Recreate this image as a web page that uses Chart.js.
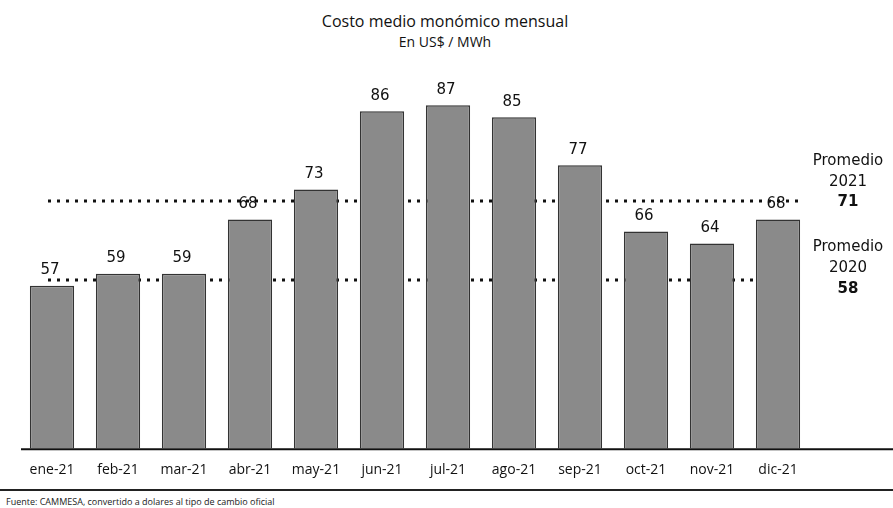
<!DOCTYPE html>
<html>
<head>
<meta charset="utf-8">
<script src="https://cdn.jsdelivr.net/npm/chart.js@4"></script>
<style>
  body { margin: 0; background: #fff; }
  #wrap { position: relative; width: 893px; height: 508px; overflow: hidden; }
  #titulo { position: absolute; top: 10px; left: 0; width: 890px; text-align: center; font-family: "Open Sans", sans-serif; font-size: 16px; color: #111; }
  #subtitulo { position: absolute; top: 32px; left: 0; width: 890px; text-align: center; font-family: "Open Sans", sans-serif; font-size: 14px; color: #111; }
  #linea { position: absolute; top: 489px; left: 0; width: 893px; height: 2px; background: #222; }
  #fuente { position: absolute; top: 495px; left: 6px; font-family: "Open Sans", sans-serif; font-size: 9px; color: #222; white-space: nowrap; }
</style>
</head>
<body>
<div id="wrap">
  <div id="titulo">Costo medio monómico mensual</div>
  <div id="subtitulo">En US$ / MWh</div>
  <canvas id="grafico" width="893" height="491" style="position:absolute;top:0;left:0;width:893px;height:491px"></canvas>
  <div id="linea"></div>
  <div id="fuente">Fuente: CAMMESA, convertido a dolares al tipo de cambio oficial</div>
</div>
<script>
// Meses
const meses = ['ene-21', 'feb-21', 'mar-21', 'abr-21', 'may-21', 'jun-21', 'jul-21', 'ago-21', 'sep-21', 'oct-21', 'nov-21', 'dic-21'];
// Costo medio monómico (US$/MWh)
const costos = [57, 59, 59, 68, 73, 86, 87, 85, 77, 66, 64, 68];
// Promedios anuales
const promedio2021 = 71;
const promedio2020 = 58;

// Lineas punteadas de promedio (detras de las barras) y textos
const lineasPromedio = {
    id: 'lineasPromedio',
    beforeDatasetsDraw(chart) {
        const ctx = chart.ctx;
        const y = chart.scales.y;
        const area = chart.chartArea;
        ctx.save();
        ctx.strokeStyle = '#111';
        ctx.lineWidth = 3;
        ctx.setLineDash([3, 6]);
        [promedio2021, promedio2020].forEach(function (v) {
            const py = Math.round(y.getPixelForValue(v));
            ctx.beginPath();
            ctx.moveTo(area.left + 29, py);
            ctx.lineTo(area.right - 8, py);
            ctx.stroke();
        });
        ctx.restore();
    },
    afterDatasetsDraw(chart) {
        const ctx = chart.ctx;
        const y = chart.scales.y;
        const area = chart.chartArea;
        const meta = chart.getDatasetMeta(0);
        ctx.save();
        // valores sobre las barras
        ctx.fillStyle = '#111';
        ctx.font = '15px "DejaVu Sans"';
        ctx.textAlign = 'center';
        ctx.textBaseline = 'bottom';
        meta.data.forEach(function (bar, i) {
            ctx.fillText(costos[i], bar.x - 2, bar.y - 8);
        });
        // eje x extendido
        ctx.strokeStyle = '#111';
        ctx.lineWidth = 2;
        ctx.beginPath();
        ctx.moveTo(area.left + 2, area.bottom + 1);
        ctx.lineTo(chart.width, area.bottom + 1);
        ctx.stroke();
        // textos de promedio a la derecha
        const cx = 848;
        const y21 = y.getPixelForValue(promedio2021);
        const y20 = y.getPixelForValue(promedio2020);
        ctx.textBaseline = 'middle';
        ctx.font = '15px "DejaVu Sans"';
        ctx.fillText('Promedio', cx, y21 - 40);
        ctx.fillText('2021', cx, y21 - 19);
        ctx.font = 'bold 15px "DejaVu Sans"';
        ctx.fillText(String(promedio2021), cx, y21 + 1);
        ctx.font = '15px "DejaVu Sans"';
        ctx.fillText('Promedio', cx, y20 - 33);
        ctx.fillText('2020', cx, y20 - 12);
        ctx.font = 'bold 15px "DejaVu Sans"';
        ctx.fillText(String(promedio2020), cx, y20 + 9);
        ctx.restore();
    }
};

const config = {
    type: 'bar',
    data: {
        labels: meses,
        datasets: [{
            data: costos,
            backgroundColor: '#8a8a8a',
            borderColor: '#333',
            borderWidth: 1.5,
            categoryPercentage: 0.67,
            barPercentage: 1
        }]
    },
    options: {
        responsive: false,
        animation: false,
        layout: { padding: { top: 57, right: 82, left: 19, bottom: 0 } },
        plugins: {
            legend: { display: false },
            tooltip: { enabled: false }
        },
        scales: {
            x: {
                grid: { display: false, drawTicks: false },
                border: { display: false },
                ticks: {
                    color: '#111',
                    padding: 13,
                    maxRotation: 0,
                    font: { family: '"Open Sans"', size: 14 }
                }
            },
            y: {
                display: false,
                min: 30,
                max: 95
            }
        }
    },
    plugins: [lineasPromedio]
};

new Chart(document.getElementById('grafico'), config);
</script>
</body>
</html>
